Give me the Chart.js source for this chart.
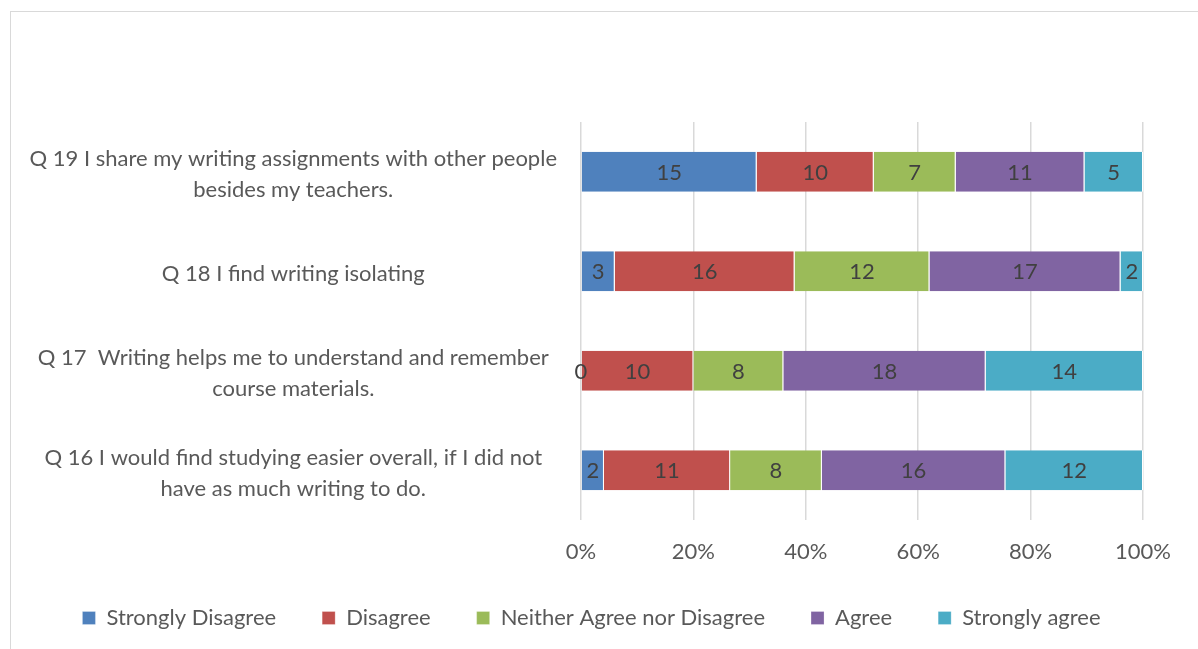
<!DOCTYPE html>
<html>
<head>
<meta charset="utf-8">
<script src="https://cdn.jsdelivr.net/npm/chart.js@4/dist/chart.umd.min.js"></script>
<style>
    html, body {
        margin: 0;
        padding: 0;
        background: #fff;
        overflow: hidden;
    }

    #frame {
        position: absolute;
        left: 10px;
        top: 11px;
        width: 1300px;
        height: 800px;
        border-left: 1px solid #d9d9d9;
        border-top: 1px solid #d9d9d9;
    }

    #wrap {
        position: absolute;
        left: 0;
        top: 0;
        width: 1198px;
        height: 649px;
    }
</style>
</head>
<body>
<div id="frame"></div>
<div id="wrap"><canvas id="surveyChart"></canvas></div>
<script>
const QUESTIONS = [
    ["Q 19 I share my writing assignments with other people", "besides my teachers."],
    ["Q 18 I find writing isolating"],
    ["Q 17  Writing helps me to understand and remember", "course materials."],
    ["Q 16 I would find studying easier overall, if I did not", "have as much writing to do."]
];

const STRONGLY_DISAGREE = [15, 3, 0, 2];
const DISAGREE = [10, 16, 10, 11];
const NEUTRAL = [7, 12, 8, 8];
const AGREE = [11, 17, 18, 16];
const STRONGLY_AGREE = [5, 2, 14, 12];

const PERCENT_TICKS = [0, 20, 40, 60, 80, 100];

const SERIES = [
    { label: "Strongly Disagree", counts: STRONGLY_DISAGREE, color: "#4f81bd" },
    { label: "Disagree", counts: DISAGREE, color: "#c0504d" },
    { label: "Neither Agree nor Disagree", counts: NEUTRAL, color: "#9bbb59" },
    { label: "Agree", counts: AGREE, color: "#8064a2" },
    { label: "Strongly agree", counts: STRONGLY_AGREE, color: "#4bacc6" }
];

const FONT_FAMILY = "Lato, 'Open Sans', sans-serif";

// row totals, used to turn counts into shares of 100%
const rowTotals = QUESTIONS.map((_, i) =>
    SERIES.reduce((sum, series) => sum + series.counts[i], 0)
);

function toPercent(counts) {

    return counts.map((count, i) => (count / rowTotals[i]) * 100);
}

// writes the raw count in the middle of each segment
const segmentLabels = {
    id: "segmentLabels",
    afterDatasetsDraw(chart) {

        const ctx = chart.ctx;

        ctx.save();
        ctx.font = "22px " + FONT_FAMILY;
        ctx.fillStyle = "#404040";
        ctx.textAlign = "center";
        ctx.textBaseline = "middle";

        chart.data.datasets.forEach((dataset, dsIndex) => {

            const meta = chart.getDatasetMeta(dsIndex);

            meta.data.forEach((bar, i) => {

                const center = bar.getCenterPoint();
                ctx.fillText(String(dataset.counts[i]), center.x, center.y + 1);
            });
        });

        ctx.restore();
    }
};

// the legend row sits a little right of the canvas centre
const legendOffset = {
    id: "legendOffset",
    afterLayout(chart) {

        if (chart.legend) {
            chart.legend.left += 20;
            chart.legend.right += 20;
        }
    }
};

const datasets = SERIES.map((series) => ({
    label: series.label,
    data: toPercent(series.counts),
    counts: series.counts,
    backgroundColor: series.color,
    borderColor: "#ffffff",
    borderWidth: { left: 0, right: 1, top: 0, bottom: 0 },
    borderSkipped: false,
    barPercentage: 0.4,
    categoryPercentage: 1
}));

new Chart(document.getElementById("surveyChart"), {
    type: "bar",
    data: {
        labels: QUESTIONS,
        datasets
    },
    options: {
        indexAxis: "y",
        responsive: true,
        maintainAspectRatio: false,
        animation: false,
        layout: {
            padding: { left: 0, right: 55, top: 122, bottom: 10 }
        },
        plugins: {
            legend: {
                position: "bottom",
                labels: {
                    boxWidth: 13,
                    boxHeight: 13,
                    padding: 46,
                    color: "#595959",
                    font: { family: FONT_FAMILY, size: 22 }
                }
            },
            tooltip: { enabled: false }
        },
        scales: {
            x: {
                stacked: true,
                min: 0,
                max: 100,
                afterBuildTicks(scale) {
                    scale.ticks = PERCENT_TICKS.map((value) => ({ value }));
                },
                afterFit(scale) {
                    scale.height = 41;
                },
                ticks: {
                    color: "#595959",
                    padding: 19,
                    font: { family: FONT_FAMILY, size: 22 },
                    callback: (value) => value + "%"
                },
                grid: {
                    color: "#d9d9d9",
                    lineWidth: 1.5,
                    drawTicks: false
                },
                border: { display: false }
            },
            y: {
                stacked: true,
                afterFit(scale) {
                    scale.width = 581;
                },
                ticks: {
                    color: "#595959",
                    padding: 16,
                    labelOffset: 3,
                    crossAlign: "center",
                    font: { family: FONT_FAMILY, size: 22, lineHeight: 1.4 }
                },
                grid: { display: false },
                border: { display: false }
            }
        }
    },
    plugins: [segmentLabels, legendOffset]
});
</script>
</body>
</html>
